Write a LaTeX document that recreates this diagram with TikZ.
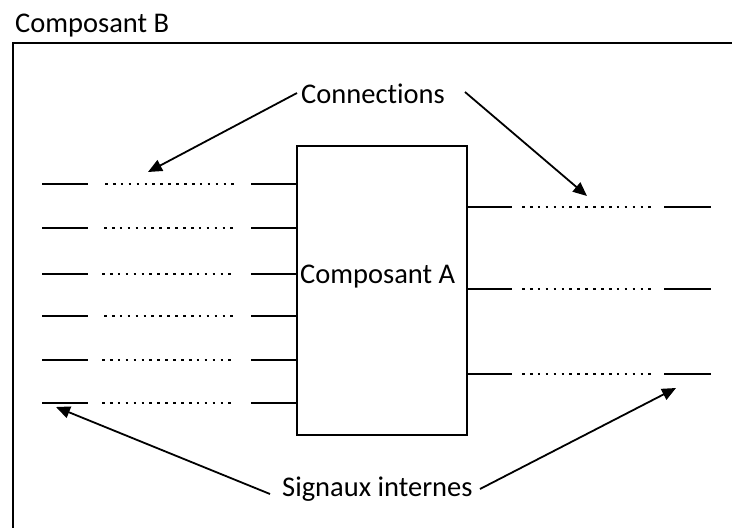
\documentclass[tikz,border=0pt]{standalone}
\usepackage{fontspec}
\setmainfont{Carlito}[Ligatures=NoCommon]
\usetikzlibrary{arrows.meta}
\tikzset{
  txt/.style={inner sep=0pt, anchor=base west, font=\fontsize{28.5}{34}\selectfont},
  wire/.style={line width=1.8pt},
  dots/.style={line width=2.6pt, dash pattern=on 2.6pt off 5.3pt},
  pointer/.style={line width=1.8pt, -{Triangle[length=14pt,width=12pt]}},
  comp/.style={draw, line width=1.6pt, minimum width=170pt, minimum height=289pt, inner sep=0pt},
}
\begin{document}
\begin{tikzpicture}[x=1pt,y=-1pt]
\useasboundingbox (0,0) rectangle (732,528);
\clip (0,0) rectangle (732,528);

% outer component frame (continues beyond the page)
\draw[line width=1.8pt] (13,560) -- (13,43) -- (760,43);
\node[txt] (compB) at (15,32) {Composant B};

% inner component
\node[comp] (A) at (382,290.5) {};
\node[txt] (compA) at (300,283) {Composant A};

% input side: external signal, link, pin of A
\foreach \i/\y/\s in {1/184/105, 2/228/104, 3/274/102, 4/316/104, 5/360/102, 6/403/102} {
  \coordinate (la\i) at (42,\y);
  \coordinate (lb\i) at (88,\y);
  \coordinate (lc\i) at (\s,\y);
  \coordinate (ld\i) at (234,\y);
  \coordinate (le\i) at (251,\y);
  \draw[wire] (la\i) -- (lb\i);
  \draw[dots] (lc\i) -- (ld\i);
  \draw[wire] (le\i) -- (A.west |- le\i);
}

% output side: pin of A, link, external signal
\foreach \i/\y in {1/207, 2/289, 3/374} {
  \coordinate (rb\i) at (512,\y);
  \coordinate (rc\i) at (522,\y);
  \coordinate (rd\i) at (652,\y);
  \coordinate (re\i) at (664,\y);
  \coordinate (rf\i) at (711,\y);
  \draw[wire] (A.east |- rb\i) -- (rb\i);
  \draw[dots] (rc\i) -- (rd\i);
  \draw[wire] (re\i) -- (rf\i);
}

% annotations
\node[txt] (conn) at (301,103) {Connections};
\node[txt] (sig) at (282,496) {Signaux internes};

\coordinate (connL) at (297,93);
\coordinate (connR) at (465,92);
\coordinate (tipCL) at (148,172);
\coordinate (tipCR) at (587,196);
\draw[pointer] (connL) -- (tipCL);
\draw[pointer] (connR) -- (tipCR);

\coordinate (sigL) at (270,494);
\coordinate (sigR) at (480,489);
\coordinate (tipSL) at (56,407);
\coordinate (tipSR) at (676,388);
\draw[pointer] (sigL) -- (tipSL);
\draw[pointer] (sigR) -- (tipSR);
\end{tikzpicture}
\end{document}
